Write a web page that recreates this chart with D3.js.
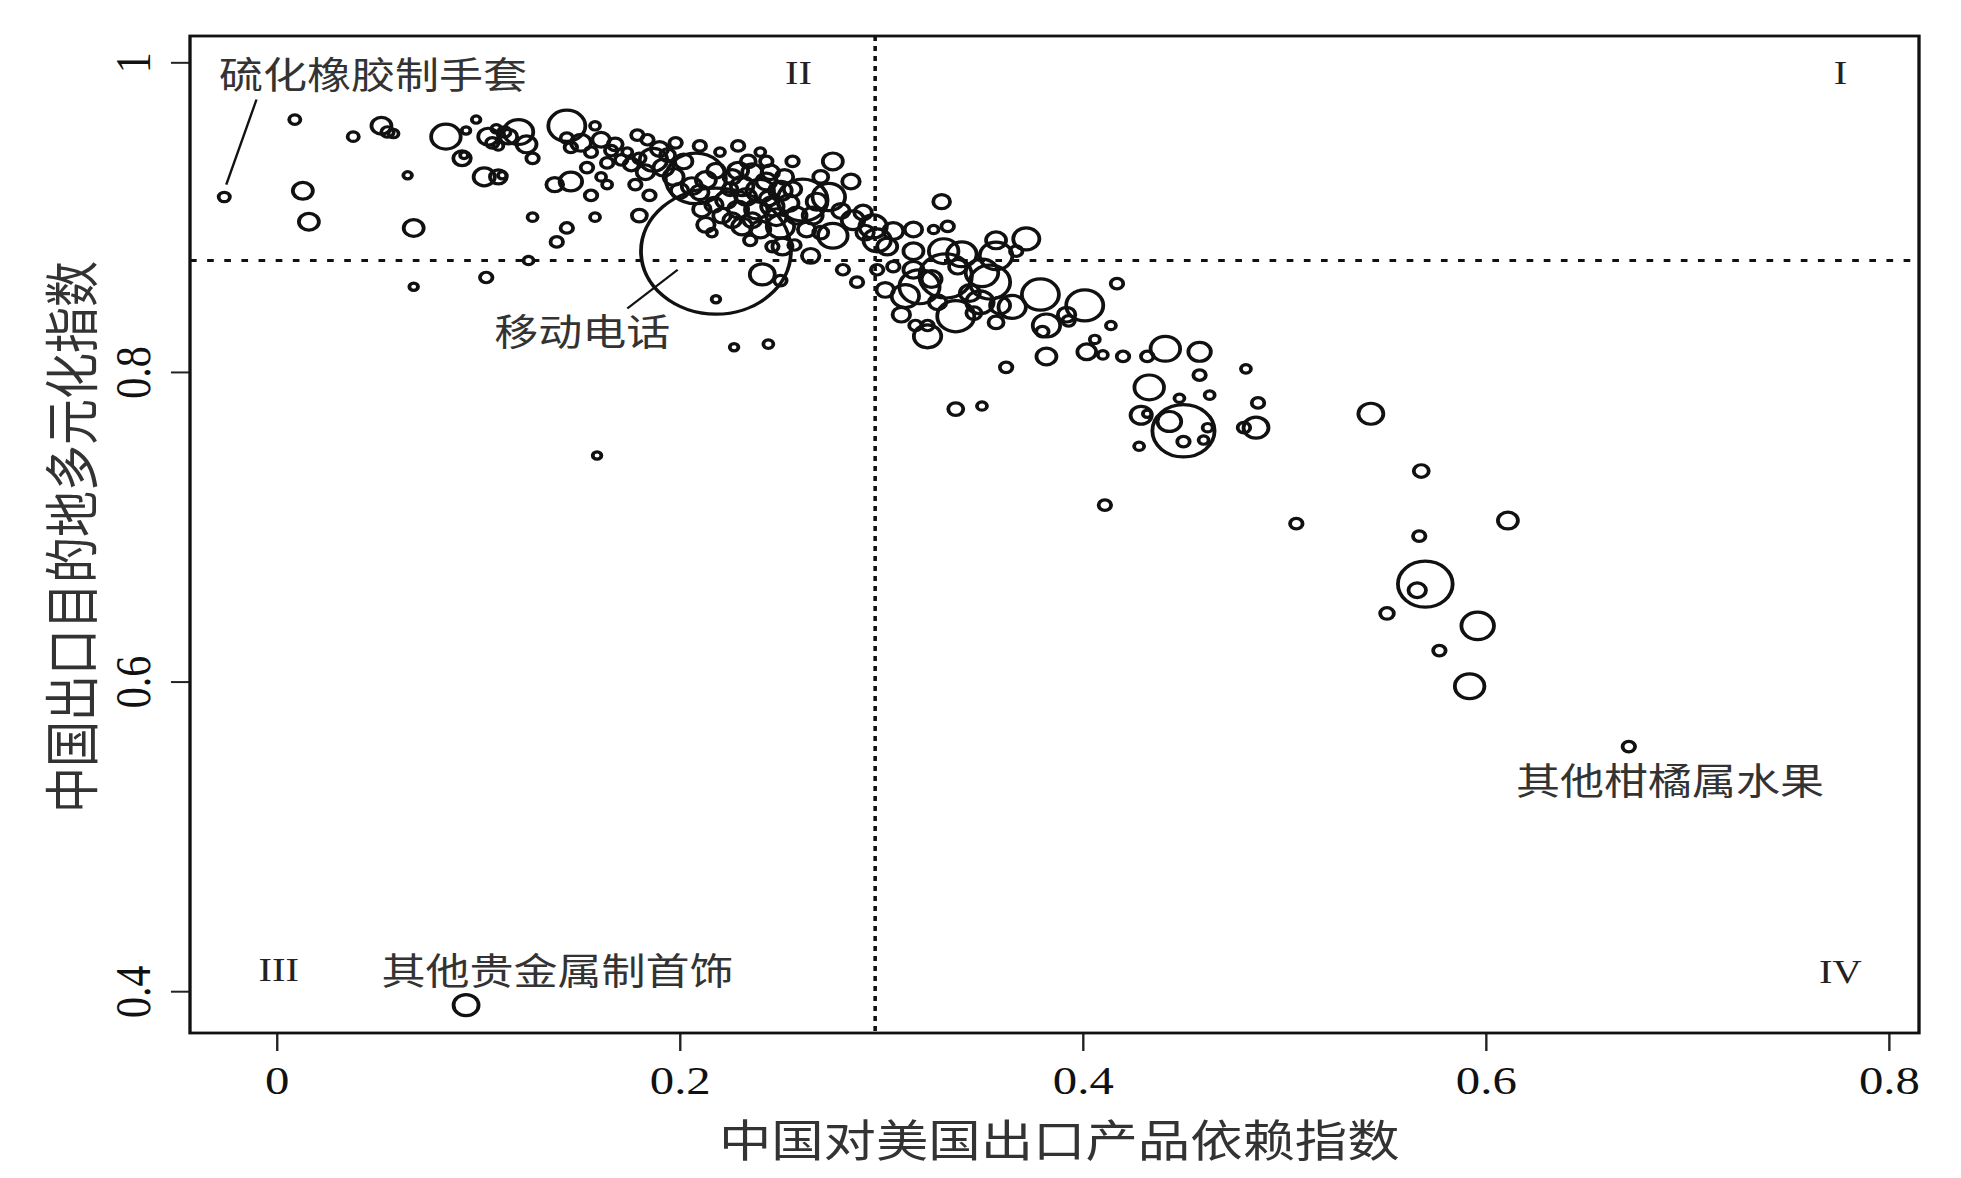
<!DOCTYPE html>
<html>
<head>
<meta charset="utf-8">
<script src="https://cdn.jsdelivr.net/npm/d3@7"></script>
<style>
  body { margin: 0; background: #fff; }
</style>
</head>
<body>
<svg id="chart"></svg>
<script>
// each row: [dependence on US, destination diversification, export value]
const sparseLeft = [
  [-0.026, 0.913, 2], [0.009, 0.963, 2], [0.013, 0.917, 6.4], [0.016, 0.897, 6.4], [0.038, 0.952, 2],
  [0.052, 0.959, 6.4], [0.055, 0.955, 2.5], [0.058, 0.954, 1.6], [0.065, 0.927, 1.2], [0.068, 0.893, 6.4],
  [0.068, 0.855, 1.2], [0.084, 0.952, 14], [0.092, 0.938, 4.9], [0.093, 0.940, 1.0], [0.099, 0.963, 1.2],
  [0.094, 0.956, 1.2], [0.103, 0.926, 7.2], [0.110, 0.926, 4.5], [0.112, 0.927, 1.2], [0.104, 0.861, 2.5],
  [0.105, 0.952, 6.4], [0.107, 0.948, 2.5], [0.109, 0.957, 1.6], [0.110, 0.946, 1.6], [0.113, 0.955, 2.5],
  [0.115, 0.952, 4.9], [0.120, 0.955, 14], [0.124, 0.947, 6.4], [0.127, 0.938, 2.5], [0.127, 0.900, 1.6],
  [0.125, 0.872, 1.6], [0.138, 0.921, 4.5], [0.146, 0.923, 8.1], [0.159, 0.746, 1.2], [0.094, 0.391, 10]
]
const clusterUpper = [
  [0.144, 0.959, 22], [0.158, 0.959, 1.6], [0.144, 0.951, 2.5], [0.151, 0.948, 6.4], [0.161, 0.950, 4.9],
  [0.156, 0.942, 2.5], [0.166, 0.943, 2.5], [0.171, 0.937, 2.5], [0.174, 0.942, 1.6], [0.164, 0.935, 2.5],
  [0.154, 0.932, 2.5], [0.146, 0.945, 2.5], [0.161, 0.926, 1.6], [0.164, 0.921, 1.6], [0.156, 0.914, 2.5],
  [0.158, 0.900, 1.6], [0.144, 0.893, 2.5], [0.139, 0.884, 2.5], [0.179, 0.953, 2.5], [0.184, 0.950, 2.5],
  [0.180, 0.938, 2.5], [0.187, 0.937, 12], [0.192, 0.932, 6.4], [0.197, 0.926, 6.4], [0.178, 0.921, 2.5],
  [0.185, 0.914, 2.5], [0.180, 0.901, 3.6], [0.198, 0.948, 2.5], [0.210, 0.946, 2.5],
  [0.168, 0.947, 3.6], [0.176, 0.934, 3.6], [0.190, 0.944, 4.9], [0.194, 0.940, 3.6], [0.183, 0.929, 4.9]
]
const clusterCore = [
  [0.208, 0.925, 58], [0.202, 0.936, 4.9], [0.206, 0.920, 6.4], [0.210, 0.916, 4.9], [0.200, 0.917, 4.9],
  [0.213, 0.924, 6.4], [0.218, 0.930, 4.9], [0.211, 0.905, 4.9], [0.213, 0.895, 4.9], [0.216, 0.890, 1.6],
  [0.221, 0.901, 4.9], [0.223, 0.911, 6.4], [0.229, 0.946, 2.5], [0.240, 0.942, 1.6], [0.229, 0.930, 6.4],
  [0.236, 0.929, 6.4], [0.245, 0.929, 4.9], [0.252, 0.926, 4.9], [0.231, 0.920, 8.1], [0.240, 0.917, 12],
  [0.250, 0.917, 8.1], [0.229, 0.905, 6.4], [0.238, 0.905, 8.1], [0.246, 0.907, 8.1], [0.254, 0.909, 6.4],
  [0.231, 0.894, 6.4], [0.240, 0.892, 6.4], [0.250, 0.894, 12], [0.235, 0.885, 2.5], [0.246, 0.881, 2.5],
  [0.243, 0.936, 2.5], [0.256, 0.936, 2.5], [0.270, 0.926, 3.6], [0.220, 0.942, 1.6], [0.225, 0.918, 3.6],
  [0.270, 0.890, 3.6], [0.257, 0.882, 2.5],
  [0.226, 0.926, 4.9], [0.233, 0.913, 6.4], [0.243, 0.923, 6.4], [0.248, 0.900, 6.4], [0.236, 0.898, 4.9],
  [0.226, 0.898, 4.9], [0.217, 0.908, 4.9], [0.256, 0.918, 4.9], [0.244, 0.912, 4.9], [0.234, 0.936, 3.6],
  [0.261, 0.911, 40], [0.274, 0.913, 17], [0.276, 0.936, 6.4], [0.285, 0.923, 4.9], [0.258, 0.901, 6.4],
  [0.266, 0.901, 6.4], [0.263, 0.892, 4.9], [0.276, 0.888, 14], [0.286, 0.898, 8.1], [0.291, 0.903, 4.9],
  [0.296, 0.894, 12], [0.298, 0.885, 12], [0.306, 0.891, 6.4], [0.316, 0.892, 4.9], [0.303, 0.881, 6.4],
  [0.281, 0.866, 2.5], [0.288, 0.858, 2.5], [0.298, 0.866, 2.5], [0.265, 0.875, 4.9], [0.251, 0.881, 6.4],
  [0.241, 0.863, 10], [0.250, 0.859, 2.5], [0.268, 0.910, 6.4], [0.280, 0.904, 4.9], [0.292, 0.890, 4.9],
  [0.218, 0.878, 360], [0.218, 0.847, 1.2], [0.227, 0.816, 1.2], [0.244, 0.818, 1.6]
]
const clusterRight = [
  [0.330, 0.910, 4.5], [0.333, 0.894, 2.5], [0.326, 0.892, 1.6], [0.357, 0.885, 6.4], [0.367, 0.878, 2.5],
  [0.316, 0.878, 6.4], [0.331, 0.878, 14], [0.340, 0.876, 14], [0.357, 0.875, 17], [0.306, 0.868, 2.5],
  [0.316, 0.866, 6.4], [0.319, 0.855, 26], [0.332, 0.862, 44], [0.350, 0.864, 17], [0.354, 0.858, 26],
  [0.302, 0.853, 4.9], [0.312, 0.849, 12], [0.337, 0.836, 22], [0.349, 0.845, 12], [0.365, 0.842, 12],
  [0.359, 0.843, 6.4], [0.357, 0.832, 3.6], [0.310, 0.837, 4.9], [0.317, 0.830, 2.5], [0.323, 0.823, 12],
  [0.323, 0.830, 2.5], [0.372, 0.886, 11], [0.379, 0.850, 22], [0.401, 0.843, 22], [0.382, 0.830, 12],
  [0.392, 0.837, 4.9], [0.393, 0.833, 2.5], [0.380, 0.826, 2.5], [0.417, 0.857, 2.5], [0.414, 0.830, 1.6],
  [0.406, 0.821, 1.6], [0.402, 0.813, 5.6], [0.410, 0.811, 1.6], [0.420, 0.810, 2.5], [0.382, 0.810, 6.4],
  [0.362, 0.803, 2.5], [0.337, 0.776, 3.6], [0.350, 0.778, 1.6],
  [0.325, 0.860, 6.4], [0.344, 0.851, 6.4], [0.338, 0.868, 4.9], [0.328, 0.845, 4.9], [0.346, 0.838, 3.6]
]
const clusterFar = [
  [0.441, 0.815, 14], [0.458, 0.813, 8.1], [0.432, 0.810, 2.5], [0.458, 0.798, 2.5], [0.481, 0.802, 1.6],
  [0.433, 0.790, 14], [0.463, 0.785, 1.6], [0.487, 0.780, 2.5], [0.448, 0.783, 1.6], [0.429, 0.772, 7.2],
  [0.443, 0.768, 9], [0.450, 0.762, 62], [0.432, 0.773, 1.2], [0.462, 0.764, 1.6], [0.450, 0.755, 2.5],
  [0.460, 0.756, 1.6], [0.428, 0.752, 1.6], [0.486, 0.764, 10], [0.480, 0.764, 2.5]
]
const tail = [
  [0.543, 0.773, 10], [0.568, 0.736, 3.6], [0.411, 0.714, 2.5], [0.506, 0.702, 2.5], [0.567, 0.694, 2.5],
  [0.611, 0.704, 6.4], [0.570, 0.663, 48], [0.566, 0.659, 4.9], [0.551, 0.644, 3], [0.596, 0.636, 17],
  [0.577, 0.620, 2.5], [0.592, 0.597, 14], [0.671, 0.558, 2.5]
]

const xTicks = [0, 0.2, 0.4, 0.6, 0.8]
const yTicks = [0.4, 0.6, 0.8, 1]
const xMedian = 0.297
const yMedian = 0.872
const xTitle = '中国对美国出口产品依赖指数'
const yTitle = '中国出口目的地多元化指数'

// name, label anchor [x, y] in data units
const productLabels = [
  ['硫化橡胶制手套', -0.0286, 0.983],
  ['移动电话', 0.108, 0.817],
  ['其他贵金属制首饰', 0.052, 0.404],
  ['其他柑橘属水果', 0.615, 0.527]
]
const leaders = [
  [-0.025, 0.921, -0.010, 0.976],
  [0.174, 0.841, 0.199, 0.866]
]
const quadrants = [['I', 0.776, 0.994], ['II', 0.259, 0.994], ['III', 0.001, 0.414], ['IV', 0.776, 0.413]]

const W = 1961, H = 1178
const sx = 1.19   // the printed figure is stretched sideways
const frame = { left: 190 / sx, right: 1919 / sx, top: 36, bottom: 1033 }
const serif = '"Liberation Serif", "DejaVu Serif", serif'
const cjk = '"Noto Sans CJK SC", sans-serif'

const svg = d3.select('#chart').attr('width', W).attr('height', H)
const g = svg.append('g').attr('transform', `scale(${sx},1)`)

const x = d3.scaleLinear().domain([-0.043, 0.815]).range([frame.left, frame.right])
const y = d3.scaleLinear().domain([0.373, 1.017]).range([frame.bottom, frame.top])
const r = d3.scaleSqrt().domain([0, 360]).range([0, 63])

const xAxis = d3.axisBottom(x).tickValues(xTicks).tickSize(18).tickSizeOuter(0).tickFormat(d3.format('~g'))
const yAxis = d3.axisLeft(y).tickValues(yTicks).tickSize(16).tickSizeOuter(0).tickFormat(d3.format('~g'))

g.append('g')
    .attr('transform', `translate(0,${frame.bottom})`)
    .call(xAxis)
    .call(a => a.select('.domain').remove())
    .call(a => a.selectAll('line').attr('stroke', '#222').attr('stroke-width', 2))
    .call(a => a.selectAll('text')
        .attr('y', 61).attr('dy', null)
        .attr('font-family', serif).attr('font-size', 41).attr('fill', '#111'))

g.append('g')
    .attr('transform', `translate(${frame.left},0)`)
    .call(yAxis)
    .call(a => a.select('.domain').remove())
    .call(a => a.selectAll('line').attr('stroke', '#222').attr('stroke-width', 2))
    .call(a => a.selectAll('text')
        .attr('x', null).attr('dy', null)
        .attr('transform', 'translate(-34,0) rotate(-90)')
        .attr('text-anchor', 'middle')
        .attr('font-family', serif).attr('font-size', 42).attr('fill', '#111'))

// median lines
g.append('line')
    .attr('x1', x(xMedian)).attr('x2', x(xMedian))
    .attr('y1', frame.top).attr('y2', frame.bottom)
    .attr('stroke', '#111').attr('stroke-width', 3).attr('stroke-dasharray', '5,5')
g.append('line')
    .attr('x1', frame.left).attr('x2', frame.right)
    .attr('y1', y(yMedian)).attr('y2', y(yMedian))
    .attr('stroke', '#111').attr('stroke-width', 3).attr('stroke-dasharray', '5.6,8.8')

const products = [].concat(sparseLeft, clusterUpper, clusterCore, clusterRight, clusterFar, tail)

g.append('g')
    .selectAll('circle')
    .data(products)
    .join('circle')
    .attr('cx', d => x(d[0]))
    .attr('cy', d => y(d[1]))
    .attr('r', d => r(d[2]))
    .attr('fill', 'none')
    .attr('stroke', '#111')
    .attr('stroke-width', 3.2)

g.append('g')
    .selectAll('line')
    .data(leaders)
    .join('line')
    .attr('x1', d => x(d[0])).attr('y1', d => y(d[1]))
    .attr('x2', d => x(d[2])).attr('y2', d => y(d[3]))
    .attr('stroke', '#111').attr('stroke-width', 2)

g.append('g')
    .selectAll('text')
    .data(productLabels)
    .join('text')
    .attr('x', d => x(d[1]))
    .attr('y', d => y(d[2]))
    .attr('font-family', cjk).attr('font-size', 37).attr('fill', '#333')
    .text(d => d[0])

g.append('g')
    .selectAll('text')
    .data(quadrants)
    .join('text')
    .attr('x', d => x(d[1]))
    .attr('y', d => y(d[2]))
    .attr('dy', '0.35em')
    .attr('text-anchor', 'middle')
    .attr('font-family', serif).attr('font-size', 34).attr('fill', '#222')
    .text(d => d[0])

g.append('rect')
    .attr('x', frame.left).attr('y', frame.top)
    .attr('width', frame.right - frame.left).attr('height', frame.bottom - frame.top)
    .attr('fill', 'none').attr('stroke', '#111').attr('stroke-width', 2.8)

g.append('text')
    .attr('x', (frame.left + frame.right) / 2 + 4)
    .attr('y', 1157)
    .attr('text-anchor', 'middle')
    .attr('font-family', cjk).attr('font-size', 44).attr('fill', '#333')
    .text(xTitle)

g.append('text')
    .attr('transform', 'translate(77,537) rotate(-90)')
    .attr('text-anchor', 'middle')
    .attr('font-family', cjk).attr('font-size', 46).attr('fill', '#333')
    .text(yTitle)
</script>
</body>
</html>
